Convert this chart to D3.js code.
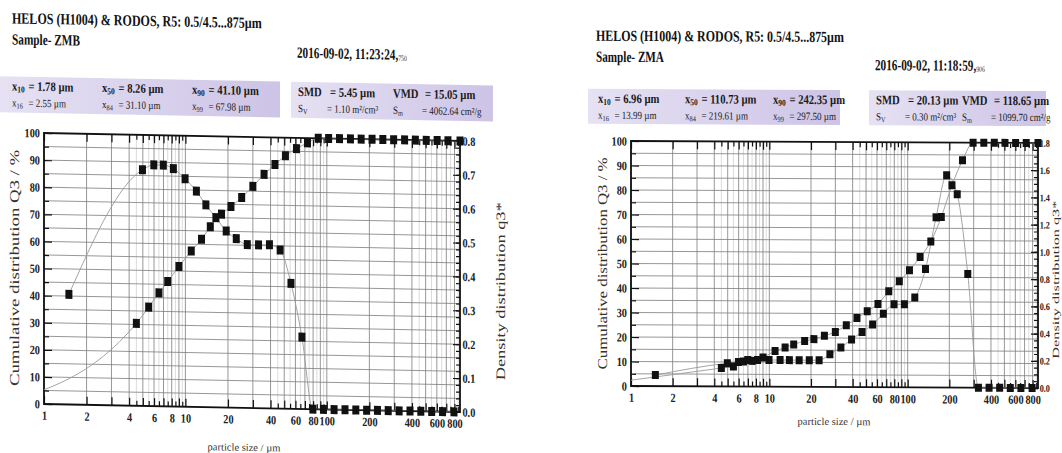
<!DOCTYPE html>
<html>
<head>
<meta charset="utf-8">
<script src="https://cdn.jsdelivr.net/npm/d3@7/dist/d3.min.js"></script>
<style>
  body { margin: 0; background: #fff; }
  svg { display: block; font-family: "Liberation Serif", "DejaVu Serif", serif; }
</style>
</head>
<body>
<svg id="chart" width="1062" height="453"></svg>
<script>
// class limits of the R5 range (cumulative points) and class centres (density points)
const r5Bounds = [4.5, 5.5, 6.5, 7.5, 9, 11, 13, 15, 18, 21, 25, 30, 36, 43, 51, 61, 73, 87,
  103, 123, 147, 175, 209, 249, 297, 355, 423, 505, 603, 719, 875];
const r5Mids = [1.5, 4.97, 5.98, 6.98, 8.22, 9.95, 11.96, 13.96, 16.43, 19.44, 22.9, 27.4, 32.9,
  39.3, 46.8, 55.8, 66.7, 79.7, 94.7, 112.6, 134.5, 160.4, 191.3, 228.1, 271.9, 324.7, 387.6,
  462.2, 551.8, 658.5, 793.2];
const lowerLimit = 0.5;
const sizeTicks = [1, 2, 4, 6, 8, 10, 20, 40, 60, 80, 100, 200, 400, 600, 800];

// Sample ZMB
const zmbCumulative = [30.4, 36.5, 41.8, 46.1, 51.7, 57.5, 61.9, 66.6, 71.3, 74.2, 77.6, 81.8,
  86.3, 90.0, 93.3, 96.0, 98.2, 100, 100, 100, 100, 100, 100, 100, 100, 100, 100, 100, 100, 100, 100];
const zmbDensity = [0.325, 0.697, 0.712, 0.712, 0.702, 0.673, 0.637, 0.597, 0.560, 0.521, 0.499,
  0.482, 0.482, 0.483, 0.468, 0.370, 0.212, 0, 0, 0, 0, 0, 0, 0, 0, 0, 0, 0, 0, 0, 0];

// Sample ZMA
const zmaCumulative = [7.5, 8.2, 10.2, 10.5, 11.9, 14.6, 16.0, 17.3, 18.7, 19.5, 20.9, 22.5,
  25.2, 28.2, 31.0, 34.0, 39.2, 43.3, 47.8, 53.2, 59.6, 69.6, 82.6, 92.8, 100, 100, 100, 100, 100, 100, 100];
const zmaDensity = [0.081, 0.171, 0.180, 0.196, 0.196, 0.196, 0.196, 0.196, 0.196, 0.196, 0.196,
  0.24, 0.29, 0.35, 0.405, 0.46, 0.54, 0.61, 0.61, 0.66, 0.87, 1.25, 1.56, 1.42, 0.835, 0, 0, 0, 0, 0, 0];

const zmbStats = [
  [["x", "10", "= 1.78 µm"], ["x", "50", "= 8.26 µm"], ["x", "90", "= 41.10 µm"]],
  [["x", "16", "= 2.55 µm"], ["x", "84", "= 31.10 µm"], ["x", "99", "= 67.98 µm"]]
];
const zmbMeans = [
  [["SMD", "", "= 5.45 µm"], ["VMD", "", "= 15.05 µm"]],
  [["S", "V", "= 1.10 m²/cm³"], ["S", "m", "= 4062.64 cm²/g"]]
];
const zmaStats = [
  [["x", "10", "= 6.96 µm"], ["x", "50", "= 110.73 µm"], ["x", "90", "= 242.35 µm"]],
  [["x", "16", "= 13.99 µm"], ["x", "84", "= 219.61 µm"], ["x", "99", "= 297.50 µm"]]
];
const zmaMeans = [
  [["SMD", "", "= 20.13 µm"], ["VMD", "", "= 118.65 µm"]],
  [["S", "V", "= 0.30 m²/cm³"], ["S", "m", "= 1099.70 cm²/g"]]
];

const panels = [
  {
    name: 'zmb', left: 44, right: 460, top: 133, bottom: 404, skew: 0.0192,
    qMax: 0.8, qStep: 0.1, qMinor: 0.02, mark: [7, 9], qFont: 12.5, qPad: 3,
    title: 'HELOS (H1004) & RODOS, R5: 0.5/4.5...875µm', titleX: 12, titleY: 24, titleW: 250,
    sample: 'Sample- ZMB', sampleY: 45,
    date: '2016-09-02, 11:23:24,', dateMs: '750', dateX: 297, dateY: 53, dateW: 110,
    box1: [0, 77, 280, 36], box2: [291, 77, 202, 36], rowY: [91, 107],
    statX: [12, 102, 192], meanX: [298, 393],
    stats: zmbStats, means: zmbMeans, cum: zmbCumulative, dens: zmbDensity,
    yLabelX: 19, yLabelW: 236, qLabelX: 505, qLabelW: 178, qLabelFont: 13,
    xTitleX: 244, xTitleY: 447
  },
  {
    name: 'zma', left: 631, right: 1038, top: 141, bottom: 386, skew: 0.005,
    qMax: 1.8, qStep: 0.2, qMinor: 0.05, mark: [7, 8], qFont: 10, qPad: 2,
    title: 'HELOS (H1004) & RODOS, R5: 0.5/4.5...875µm', titleX: 596, titleY: 41, titleW: 248,
    sample: 'Sample- ZMA', sampleY: 62,
    date: '2016-09-02, 11:18:59,', dateMs: '906', dateX: 875, dateY: 69, dateW: 110,
    box1: [588, 89, 252, 35], box2: [869, 89, 177, 35], rowY: [103, 119],
    statX: [598, 685, 773], meanX: [876, 962],
    stats: zmaStats, means: zmaMeans, cum: zmaCumulative, dens: zmaDensity,
    yLabelX: 607, yLabelW: 212, qLabelX: 1059, qLabelW: 158, qLabelFont: 9.5,
    xTitleX: 834, xTitleY: 424
  }
];

const svg = d3.select('#chart');
const defs = svg.append('defs');
const grad = defs.append('linearGradient').attr('id', 'band');
grad.append('stop').attr('offset', '0%').attr('stop-color', '#e6e1f3');
grad.append('stop').attr('offset', '100%').attr('stop-color', '#cdc4e6');

// grid positions of the log paper
const decades = [1, 10, 100];
const mainGrid = [];
const fineGrid = [];
decades.forEach(k => {
  d3.range(1, 10).forEach(m => { if (m * k <= 875) mainGrid.push(m * k); });
  [4.5, 5.5, 6.5, 7.5, 8.5, 9.5].forEach(m => { if (m * k <= 875) fineGrid.push(m * k); });
});

const SX = 0.82; // narrow print of the instrument report

// squeeze a text horizontally so it fills the given width
function fitText(g, x, y, width, size, build) {
  const t = g.append('text')
    .attr('font-size', size).attr('font-weight', 'bold').attr('fill', '#111');
  build(t);
  const len = t.node().getComputedTextLength();
  t.attr('transform', `translate(${x},${y}) scale(${width / len},1)`);
  return t;
}

function statText(g, x, y, item, bold) {
  const size = bold ? 13 : 11;
  const t = g.append('text')
    .attr('transform', `translate(${x},${y}) scale(${SX},1)`)
    .attr('font-size', size)
    .attr('font-weight', bold ? 'bold' : 'normal')
    .attr('fill', '#1a1a1a');
  t.append('tspan').text(item[0]);
  if (item[1]) {
    t.append('tspan').attr('font-size', size * 0.7).attr('dy', 2).text(item[1]);
  }
  // value column after the symbol
  const gap = item[0] === 'x' ? 20 * SX : item[0] === 'S' ? 29 : 32;
  g.append('text')
    .attr('transform', `translate(${x + gap},${y}) scale(${SX},1)`)
    .attr('font-size', size)
    .attr('font-weight', bold ? 'bold' : 'normal')
    .attr('fill', '#1a1a1a')
    .text(item[2]);
}

function drawPanel(p) {
  const g = svg.append('g')
    .attr('transform', `matrix(1,${p.skew},0,1,0,${-p.left * p.skew})`);

  const x = d3.scaleLog().domain([1, 875]).range([p.left, p.right]);
  const yQ = d3.scaleLinear().domain([0, 100]).range([p.bottom, p.top]);
  const yq = d3.scaleLinear().domain([0, p.qMax]).range([p.bottom, p.top]);
  const w = p.right - p.left;
  const h = p.bottom - p.top;

  // header
  fitText(g, p.titleX, p.titleY, p.titleW, 15.5, t => t.text(p.title));
  fitText(g, p.titleX, p.sampleY, 68, 15.5, t => t.text(p.sample));
  fitText(g, p.dateX, p.dateY, p.dateW, 15.5, t => {
    t.append('tspan').text(p.date);
    t.append('tspan').attr('font-size', 8).attr('font-weight', 'normal')
      .attr('fill', '#333').attr('dy', 1).text(p.dateMs);
  });

  [p.box1, p.box2].forEach(b => {
    g.append('rect').attr('x', b[0]).attr('y', b[1]).attr('width', b[2]).attr('height', b[3])
      .attr('fill', 'url(#band)');
  });
  p.stats.forEach((row, r) => row.forEach((item, i) =>
    statText(g, p.statX[i], p.rowY[r], item, r === 0)));
  p.means.forEach((row, r) => row.forEach((item, i) =>
    statText(g, p.meanX[i], p.rowY[r], item, r === 0)));

  // grid
  const plot = g.append('g');
  plot.append('g').selectAll('line').data(fineGrid).join('line')
    .attr('x1', d => x(d)).attr('x2', d => x(d))
    .attr('y1', p.top).attr('y2', p.bottom)
    .attr('stroke', '#c4c4c4').attr('stroke-width', 0.6);
  plot.append('g').selectAll('line').data(mainGrid).join('line')
    .attr('x1', d => x(d)).attr('x2', d => x(d))
    .attr('y1', p.top).attr('y2', p.bottom)
    .attr('stroke', '#7d7d7d').attr('stroke-width', 0.8);
  plot.append('g').selectAll('line').data(d3.range(5, 100, 5)).join('line')
    .attr('x1', p.left).attr('x2', p.right)
    .attr('y1', d => yQ(d)).attr('y2', d => yQ(d))
    .attr('stroke', '#7d7d7d').attr('stroke-width', 0.8);

  // inward ticks on all four sides
  const tickAxis = (axis, vals, len, transform) => {
    const a = plot.append('g').attr('transform', transform)
      .call(axis.tickValues(vals).tickSize(-len).tickFormat(''));
    a.select('.domain').remove();
    a.selectAll('line').attr('stroke', '#111').attr('stroke-width', 1.2);
  };
  tickAxis(d3.axisBottom(x), mainGrid, 8, `translate(0,${p.bottom})`);
  tickAxis(d3.axisBottom(x), fineGrid, 5, `translate(0,${p.bottom})`);
  tickAxis(d3.axisTop(x), mainGrid, 8, `translate(0,${p.top})`);
  tickAxis(d3.axisTop(x), fineGrid, 5, `translate(0,${p.top})`);
  tickAxis(d3.axisLeft(yQ), d3.range(0, 101, 10), 8, `translate(${p.left},0)`);
  tickAxis(d3.axisLeft(yQ), d3.range(5, 100, 10), 5, `translate(${p.left},0)`);
  const qMajor = d3.range(0, p.qMax + 1e-6, p.qStep);
  const qMinor = d3.range(0, p.qMax + 1e-6, p.qMinor);
  tickAxis(d3.axisRight(yq), qMajor, 7, `translate(${p.right},0)`);
  tickAxis(d3.axisRight(yq), qMinor, 4, `translate(${p.right},0)`);

  plot.append('rect').attr('x', p.left).attr('y', p.top).attr('width', w).attr('height', h)
    .attr('fill', 'none').attr('stroke', '#111').attr('stroke-width', 1.8);

  // tick labels
  const labelAxis = (axis, transform, size) => {
    const a = g.append('g').attr('transform', transform).call(axis);
    a.select('.domain').remove();
    a.selectAll('text').attr('font-family', '"Liberation Serif", serif')
      .attr('font-weight', 'bold').attr('font-size', size).attr('fill', '#222')
      .attr('transform', `scale(${SX},1)`);
    return a;
  };
  labelAxis(d3.axisBottom(x).tickValues(sizeTicks).tickFormat(d3.format('d')).tickSize(0).tickPadding(7),
    `translate(0,${p.bottom})`, 12.5);
  labelAxis(d3.axisLeft(yQ).tickValues(d3.range(0, 101, 10)).tickSize(0).tickPadding(5),
    `translate(${p.left},0)`, 12.5);
  labelAxis(d3.axisRight(yq).tickValues(qMajor).tickFormat(d3.format('.1f')).tickSize(0).tickPadding(p.qPad),
    `translate(${p.right},0)`, p.qFont);

  g.append('text')
    .attr('transform', `translate(${p.yLabelX},${(p.top + p.bottom) / 2}) rotate(-90)`)
    .attr('text-anchor', 'middle').attr('font-size', 13.5).attr('fill', '#333')
    .attr('textLength', p.yLabelW).attr('lengthAdjust', 'spacingAndGlyphs')
    .text('Cumulative distribution Q3 / %');
  g.append('text')
    .attr('transform', `translate(${p.qLabelX},${(p.top + p.bottom) / 2 + 14}) rotate(-90)`)
    .attr('text-anchor', 'middle').attr('font-size', p.qLabelFont).attr('fill', '#333')
    .attr('textLength', p.qLabelW).attr('lengthAdjust', 'spacingAndGlyphs')
    .text('Density distribution q3*');
  g.append('text')
    .attr('x', p.xTitleX).attr('y', p.xTitleY)
    .attr('text-anchor', 'middle').attr('font-size', 10.5).attr('fill', '#333')
    .text('particle size / µm');

  // curves
  const clipId = `clip-${p.name}`;
  defs.append('clipPath').attr('id', clipId)
    .append('rect').attr('x', p.left).attr('y', p.top).attr('width', w).attr('height', h);

  const cumPts = [{s: lowerLimit, v: 0}].concat(r5Bounds.map((s, i) => ({s, v: p.cum[i]})));
  const densPts = r5Mids.map((s, i) => ({s, v: p.dens[i]}));

  const cumLine = d3.line().x(d => x(d.s)).y(d => yQ(d.v)).curve(d3.curveMonotoneX);
  const densLine = d3.line().x(d => x(d.s)).y(d => yq(d.v)).curve(d3.curveMonotoneX);
  const curves = g.append('g').attr('clip-path', `url(#${clipId})`);
  curves.append('path').attr('d', cumLine(cumPts))
    .attr('fill', 'none').attr('stroke', '#9a9a9a').attr('stroke-width', 0.9);
  curves.append('path').attr('d', densLine(densPts))
    .attr('fill', 'none').attr('stroke', '#9a9a9a').attr('stroke-width', 0.9);

  // square markers
  const [mw, mh] = p.mark;
  g.append('g').selectAll('rect').data(cumPts.slice(1)).join('rect')
    .attr('x', d => x(d.s) - mw / 2).attr('y', d => yQ(d.v) - mh / 2)
    .attr('width', mw).attr('height', mh).attr('fill', '#111');
  g.append('g').selectAll('rect').data(densPts).join('rect')
    .attr('x', d => x(d.s) - mw / 2).attr('y', d => yq(d.v) - mh / 2)
    .attr('width', mw).attr('height', mh).attr('fill', '#111');
}

panels.forEach(drawPanel);
</script>
</body>
</html>
